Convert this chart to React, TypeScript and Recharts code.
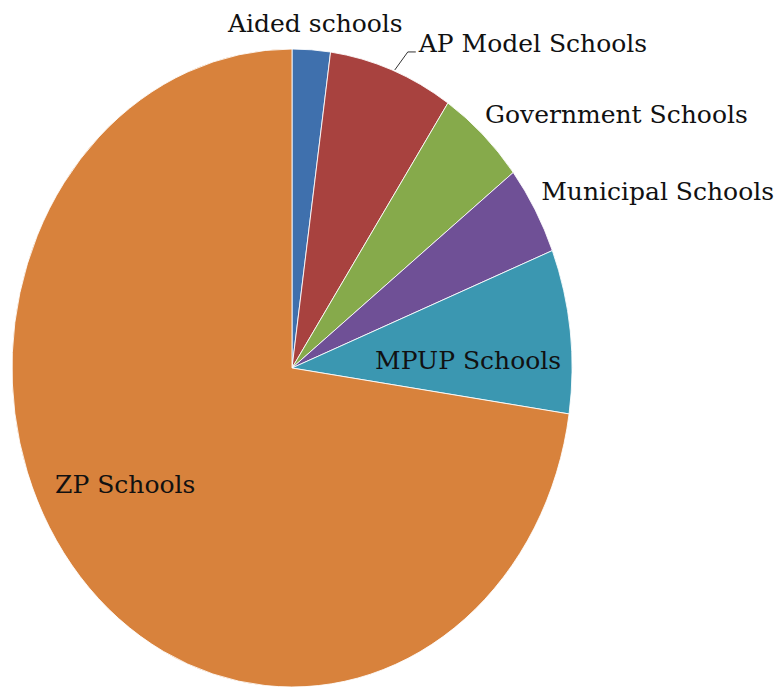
import { PieChart, Pie, Cell } from 'recharts';

// school management types, clockwise from 12 o'clock
const schoolTypes = [
  'Aided schools',
  'AP Model Schools',
  'Government Schools',
  'Municipal Schools',
  'MPUP Schools',
  'ZP Schools',
];
const shares = [2.2, 7.2, 5.1, 4.5, 8.3, 72.7];
const sliceColors = ['#3f70ad', '#a8423f', '#86aa4b', '#6f5096', '#3b97b1', '#d8823c'];

// where each label sits relative to the slice's outer edge
const labelPlacement = [
  { dx: 4, dy: -18, anchor: 'middle', leader: false },
  { dx: 27, dy: -18, anchor: 'start', leader: true },
  { dx: 2, dy: -12, anchor: 'start', leader: false },
  { dx: 6, dy: -10, anchor: 'start', leader: false },
  { dx: -102, dy: 38, anchor: 'middle', leader: false },
  { dx: 45, dy: -84, anchor: 'middle', leader: false },
];

const CX = 292;
const CY = 368;
const RADIUS = 280;
const KY = 319 / 280; // the pie is drawn stretched vertically
const RAD = Math.PI / 180;

const data = schoolTypes.map((name, i) => ({ name, value: shares[i] }));

const renderLabel = (props: any) => {
  const { cx, cy, midAngle, outerRadius, index, name } = props;
  const ex = cx + outerRadius * Math.cos(-midAngle * RAD);
  const ey = cy + outerRadius * KY * Math.sin(-midAngle * RAD);
  const p = labelPlacement[index];
  return (
    <g key={`lbl-${index}`}>
      {p.leader && (
        <polyline
          points={`${ex + 3},${ey} ${ex + 16},${ey + p.dy} ${ex + 24},${ey + p.dy}`}
          fill="none"
          stroke="#333"
          strokeWidth={1}
        />
      )}
      <text
        x={ex + p.dx}
        y={ey + p.dy}
        textAnchor={p.anchor}
        fill="#111"
        fontFamily="'DejaVu Serif', serif"
        fontSize={25}
      >
        {name}
      </text>
    </g>
  );
};

export default function App() {
  return (
    <div
      className="ellipse-pie"
      style={{ position: 'absolute', left: 0, top: 0, width: 777, height: 689, background: '#fff' }}
    >
      <style>{`
        .ellipse-pie .recharts-pie-sector {
          transform-box: view-box;
          transform-origin: ${CX}px ${CY}px;
          transform: scaleY(${KY});
        }
      `}</style>
      <PieChart width={777} height={689} margin={{ top: 0, right: 0, bottom: 0, left: 0 }}>
        <Pie
          data={data}
          dataKey="value"
          nameKey="name"
          cx={CX}
          cy={CY}
          outerRadius={RADIUS}
          startAngle={90}
          endAngle={-270}
          stroke="#ffffff"
          strokeWidth={0.8}
          label={renderLabel}
          labelLine={false}
          isAnimationActive={false}
        >
          {data.map((d, i) => (
            <Cell key={d.name} fill={sliceColors[i]} />
          ))}
        </Pie>
      </PieChart>
    </div>
  );
}
